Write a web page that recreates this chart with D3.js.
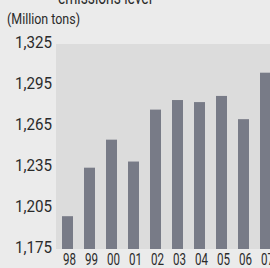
<!DOCTYPE html>
<html>
<head>
<meta charset="utf-8">
<script src="https://cdn.jsdelivr.net/npm/d3@7"></script>
<style>
  html, body { margin: 0; padding: 0; background: #ebebeb; overflow: hidden; }
  svg { display: block; }
  text { font-family: "Roboto", "Liberation Sans", sans-serif; fill: #2a2a2a; }
</style>
</head>
<body>
<div id="chart"></div>
<script>
// Données (millions de tonnes)
const years = ["98", "99", "00", "01", "02", "03", "04", "05", "06", "07"]
const emissions = [1199, 1234.5, 1255, 1239, 1277, 1284, 1282.5, 1287, 1270, 1304]
const yTicks = [1175, 1205, 1235, 1265, 1295, 1325]

const W = 270, H = 268
const plot = { left: 56, right: 270, top: 44, bottom: 249 }

const svg = d3.select("#chart").append("svg")
  .attr("width", W).attr("height", H)

svg.append("rect")
  .attr("width", W).attr("height", H)
  .attr("fill", "#ebebeb")

// fond de la zone de tracé
svg.append("rect")
  .attr("x", plot.left).attr("y", plot.top)
  .attr("width", plot.right - plot.left)
  .attr("height", plot.bottom - plot.top)
  .attr("fill", "#dcdcdc")

const x = d3.scaleBand()
  .domain(years)
  .range([plot.left + 0.5, plot.left + 220.5])
  .paddingInner(0.5)
  .paddingOuter(0.25)

const y = d3.scaleLinear()
  .domain([1175, 1325])
  .range([plot.bottom, plot.top])

svg.append("g")
  .selectAll("rect.bar")
  .data(emissions)
  .join("rect")
  .attr("class", "bar")
  .attr("x", (_, i) => x(years[i]))
  .attr("y", (d) => y(d))
  .attr("width", x.bandwidth())
  .attr("height", (d) => plot.bottom - y(d))
  .attr("fill", "#787b87")

// Police condensée absente : on compresse via textLength
// Axe Y : libellés seulement
svg.append("g")
  .selectAll("text.ytick")
  .data(yTicks)
  .join("text")
  .attr("class", "ytick")
  .attr("x", 52)
  .attr("y", (d) => y(d) + 3.5)
  .attr("text-anchor", "end")
  .attr("font-size", 17)
  .attr("textLength", 37)
  .attr("lengthAdjust", "spacingAndGlyphs")
  .text((d) => d3.format(",")(d))

// Axe X
svg.append("g")
  .selectAll("text.xtick")
  .data(years)
  .join("text")
  .attr("class", "xtick")
  .attr("x", (d) => x(d) + x.bandwidth() / 2 + 2)
  .attr("y", 265)
  .attr("text-anchor", "middle")
  .attr("font-size", 17)
  .attr("textLength", 13)
  .attr("lengthAdjust", "spacingAndGlyphs")
  .text((d) => d)

// Titre (coupé en haut) + unité
svg.append("text")
  .attr("x", 105).attr("y", 4)
  .attr("text-anchor", "middle")
  .attr("font-size", 18)
  .attr("textLength", 94)
  .attr("lengthAdjust", "spacingAndGlyphs")
  .text("emissions level")

svg.append("text")
  .attr("x", 7).attr("y", 24)
  .attr("font-size", 14)
  .attr("textLength", 73)
  .attr("lengthAdjust", "spacingAndGlyphs")
  .text("(Million tons)")
</script>
</body>
</html>
